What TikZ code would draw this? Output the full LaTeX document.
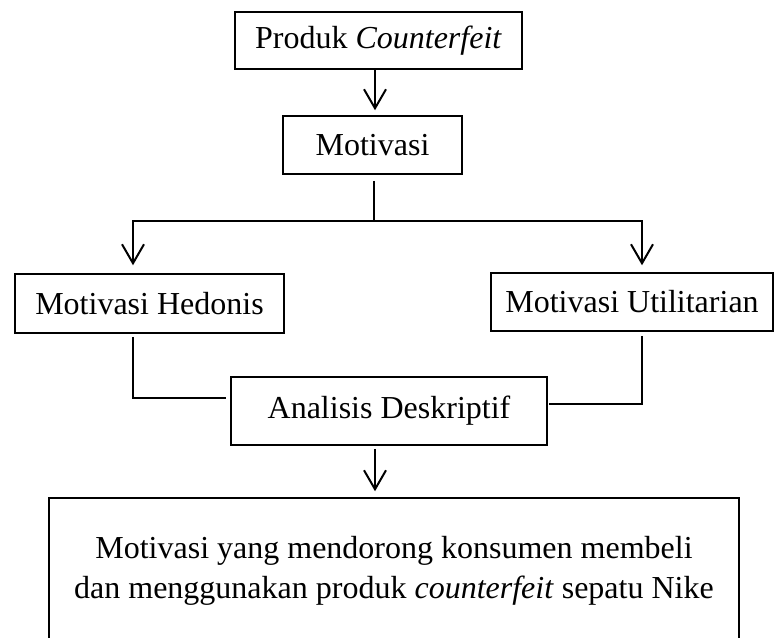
\documentclass[tikz,border=0pt]{standalone}
\usepackage{fontspec}
\setmainfont{Liberation Serif}
\usetikzlibrary{arrows.meta}
\begin{document}
\begin{tikzpicture}[x=0.5pt,y=-0.5pt,
  boxnode/.style={draw=black,line width=0.75pt,rectangle,inner sep=0pt,
    font=\fontsize{16}{20}\selectfont,align=center},
  conn/.style={draw=black,line width=1pt},
  arr/.style={conn,-{Straight Barb[length=9.5pt,width=11pt]}}]
\useasboundingbox (0,0) rectangle (774,637);
\clip (0,0) rectangle (774,637);
% boxes
\node[boxnode,minimum width=143.5pt,minimum height=28.5pt] (b1) at (378.5,40.5) {Produk \textit{Counterfeit}};
\node[boxnode,minimum width=89.5pt,minimum height=29pt] (b2) at (372.5,145) {Motivasi};
\node[boxnode,minimum width=134.5pt,minimum height=29.5pt] (b3) at (149.5,303.5) {Motivasi Hedonis};
\node[boxnode,minimum width=141pt,minimum height=29pt] (b4) at (632,302) {Motivasi Utilitarian};
\node[boxnode,minimum width=158pt,minimum height=34pt] (b5) at (389,411) {Analisis Deskriptif};
\node[boxnode,minimum width=345pt,minimum height=73pt] (b6) at (394,571) {Motivasi yang mendorong konsumen membeli\\dan menggunakan produk \textit{counterfeit} sepatu Nike};
% helper coordinates
\coordinate (ax) at (375,0);
\coordinate (jx) at (374,221);
\coordinate (hl) at (133,0);
\coordinate (rl) at (642,0);
\coordinate (lh) at (0,398);
\coordinate (rh) at (0,404);
% connectors
\draw[arr,shorten >=2.5pt] (b1.south -| ax) -- (b2.north -| ax);
\draw[conn,shorten <=3pt] (b2.south -| jx) -- (jx);
\draw[arr,shorten >=4pt] (jx) -| (b3.north -| hl);
\draw[arr,shorten >=3.5pt] (jx) -| (b4.north -| rl);
\draw[conn,shorten <=1.5pt,shorten >=2pt] (b3.south -| hl) |- (b5.west |- lh);
\draw[conn,shorten <=2pt,shorten >=0.5pt] (b4.south -| rl) |- (b5.east |- rh);
\draw[arr,shorten <=1.5pt,shorten >=3pt] (b5.south -| ax) -- (b6.north -| ax);
\end{tikzpicture}
\end{document}
